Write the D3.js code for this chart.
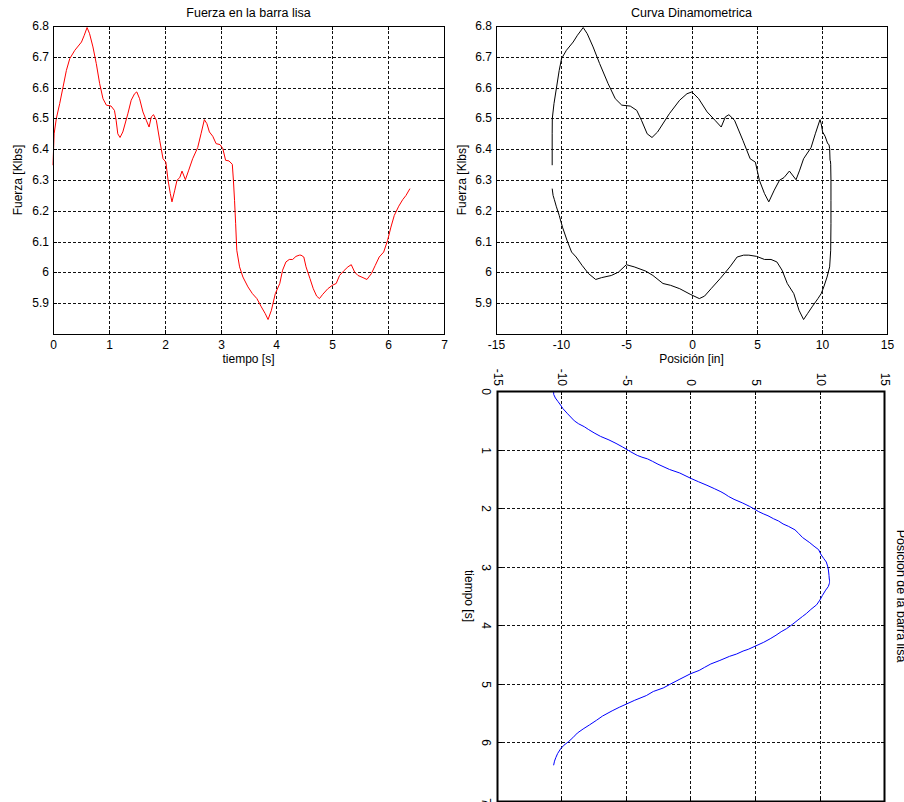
<!DOCTYPE html>
<html>
<head>
<meta charset="utf-8">
<script src="https://cdn.jsdelivr.net/npm/d3@7"></script>
<style>
  body { margin: 0; background: #fff; }
  svg { display: block; font-family: "Liberation Sans", Arial, sans-serif; }
</style>
</head>
<body>
<svg id="fig" width="904" height="802"></svg>
<script>
// samples: time [s], force [Klbs], polished rod position [in]
const timeS = [
  0.00, 0.02, 0.06, 0.12, 0.18, 0.24, 0.30, 0.39, 0.51, 0.56,
  0.61, 0.655, 0.715, 0.775, 0.835, 0.895, 0.955, 1.04, 1.10, 1.13,
  1.16, 1.20, 1.25, 1.34, 1.40, 1.46, 1.50, 1.55, 1.61, 1.67,
  1.72, 1.76, 1.80, 1.85, 1.91, 1.97, 2.02, 2.06, 2.10, 2.13,
  2.18, 2.22, 2.27, 2.31, 2.37, 2.43, 2.50, 2.59, 2.65, 2.71,
  2.755, 2.80, 2.86, 2.92, 2.99, 3.04, 3.09, 3.15, 3.21, 3.23,
  3.25, 3.27, 3.29, 3.34, 3.40, 3.49, 3.57, 3.65, 3.73, 3.80,
  3.85, 3.91, 3.98, 4.06, 4.11, 4.17, 4.23, 4.29, 4.35, 4.41,
  4.44, 4.49, 4.53, 4.60, 4.66, 4.72, 4.77, 4.83, 4.92, 5.00,
  5.07, 5.13, 5.20, 5.28, 5.34, 5.40, 5.46, 5.55, 5.62, 5.70,
  5.77, 5.84, 5.92, 5.99, 6.05, 6.11, 6.19, 6.26, 6.32, 6.39
];
const forceKlbs = [
  6.348, 6.45, 6.50, 6.548, 6.602, 6.656, 6.694, 6.721, 6.748, 6.77,
  6.795, 6.775, 6.732, 6.678, 6.613, 6.564, 6.543, 6.54, 6.526, 6.494,
  6.45, 6.438, 6.456, 6.515, 6.559, 6.58, 6.586, 6.564, 6.521, 6.494,
  6.472, 6.505, 6.512, 6.494, 6.429, 6.369, 6.358, 6.299, 6.256, 6.229,
  6.267, 6.299, 6.308, 6.329, 6.301, 6.332, 6.369, 6.405, 6.45, 6.496,
  6.483, 6.456, 6.442, 6.418, 6.415, 6.402, 6.364, 6.362, 6.351, 6.299,
  6.234, 6.158, 6.072, 6.018, 5.985, 5.953, 5.931, 5.915, 5.888, 5.866,
  5.847, 5.877, 5.931, 5.964, 6.007, 6.034, 6.042, 6.042, 6.052, 6.056,
  6.056, 6.05, 6.018, 5.98, 5.947, 5.923, 5.915, 5.929, 5.947, 5.958,
  5.964, 5.99, 6.004, 6.018, 6.025, 6.001, 5.99, 5.983, 5.977, 5.996,
  6.023, 6.05, 6.066, 6.104, 6.147, 6.185, 6.215, 6.236, 6.25, 6.272
];
const posIn = [
  -10.69, -10.69, -10.68, -10.55, -10.35, -10.15, -9.97, -9.6, -9.08, -8.75,
  -8.31, -8.0, -7.55, -7.05, -6.4, -5.85, -5.35, -4.7, -4.2, -3.84,
  -3.4, -3.03, -2.6, -1.7, -0.91, -0.35, 0.03, 0.55, 1.2, 1.8,
  2.28, 2.6, 2.87, 3.3, 3.94, 4.5, 4.9, 5.21, 5.6, 5.93,
  6.35, 6.75, 7.1, 7.51, 8.02, 8.3, 8.6, 9.17, 9.5, 9.86,
  9.95, 10.06, 10.25, 10.45, 10.55, 10.6, 10.63, 10.66, 10.68, 10.7,
  10.7, 10.7, 10.68, 10.6, 10.4, 10.15, 9.95, 9.7, 9.25, 8.9,
  8.6, 8.25, 7.85, 7.35, 6.95, 6.55, 6.1, 5.6, 5.0, 4.4,
  4.0, 3.5, 2.95, 2.2, 1.5, 1.0, 0.6, -0.1, -0.9, -1.6,
  -2.19, -2.96, -3.5, -4.4, -5.0, -5.6, -6.15, -6.9, -7.35, -7.9,
  -8.4, -8.85, -9.2, -9.55, -9.9, -10.15, -10.38, -10.52, -10.62, -10.69
];

const timeTicks = [0, 1, 2, 3, 4, 5, 6, 7];
const forceTicks = [5.9, 6, 6.1, 6.2, 6.3, 6.4, 6.5, 6.6, 6.7, 6.8];
const posTicks = [-15, -10, -5, 0, 5, 10, 15];

const svg = d3.select('#fig');
const fmt = d => String(+d.toFixed(1));

// one MATLAB style axes box: grid, trace, frame, inward ticks on all sides
function panel(g, o) {
  const x = d3.scaleLinear().domain(o.xDomain).range([0, o.w]);
  const y = d3.scaleLinear().domain(o.yDomain).range([o.h, 0]);
  const xr = x.copy().interpolate(d3.interpolateRound);
  const yr = y.copy().interpolate(d3.interpolateRound);

  const grid = g.append('g')
    .attr('stroke', '#111')
    .attr('stroke-width', 1)
    .attr('stroke-dasharray', '3,2');
  grid.selectAll('.gx').data(o.xTicks).join('line')
    .attr('x1', d => xr(d) + 0.5).attr('x2', d => xr(d) + 0.5)
    .attr('y1', 0).attr('y2', o.h);
  grid.selectAll('.gy').data(o.yTicks).join('line')
    .attr('y1', d => yr(d) + 0.5).attr('y2', d => yr(d) + 0.5)
    .attr('x1', 0).attr('x2', o.w);

  g.append('path')
    .datum(o.xs.map((v, i) => [v, o.ys[i]]))
    .attr('fill', 'none')
    .attr('stroke', o.color)
    .attr('stroke-width', 1)
    .attr('stroke-linejoin', 'round')
    .attr('d', d3.line().x(d => x(d[0])).y(d => y(d[1])));

  g.append('rect')
    .attr('x', 0.5).attr('y', 0.5)
    .attr('width', o.w).attr('height', o.h)
    .attr('fill', 'none')
    .attr('stroke', '#000')
    .attr('stroke-width', o.frame || 1);

  const style = sel => {
    sel.select('.domain').remove();
    sel.selectAll('line').attr('stroke', '#000');
    sel.attr('font-family', null).attr('font-size', 12);
    sel.selectAll('text').attr('fill', '#000');
  };

  g.append('g').attr('transform', `translate(0,${o.h})`)
    .call(d3.axisBottom(xr).tickValues(o.xTicks).tickFormat(fmt)
      .tickSizeInner(-4).tickSizeOuter(0).tickPadding(o.xPad))
    .call(style);
  g.append('g')
    .call(d3.axisTop(xr).tickValues(o.xTicks).tickFormat('')
      .tickSizeInner(-4).tickSizeOuter(0))
    .call(style);
  g.append('g')
    .call(d3.axisLeft(yr).tickValues(o.yTicks).tickFormat(fmt)
      .tickSizeInner(-4).tickSizeOuter(0).tickPadding(o.yPad))
    .call(style);
  g.append('g').attr('transform', `translate(${o.w},0)`)
    .call(d3.axisRight(yr).tickValues(o.yTicks).tickFormat('')
      .tickSizeInner(-4).tickSizeOuter(0))
    .call(style);

  g.append('text')
    .attr('x', o.w / 2).attr('y', o.titleY)
    .attr('text-anchor', 'middle')
    .attr('font-size', 12.5)
    .text(o.title);
  g.append('text')
    .attr('x', o.w / 2).attr('y', o.h + o.xLabelY)
    .attr('text-anchor', 'middle')
    .attr('font-size', 12)
    .text(o.xLabel);
  if (o.yLabel) {
    g.append('text')
      .attr('transform', `translate(${o.yLabelX},${o.h / 2}) rotate(-90)`)
      .attr('text-anchor', 'middle')
      .attr('font-size', 12)
      .text(o.yLabel);
  }
}

// force vs time
panel(svg.append('g').attr('transform', 'translate(53,26)'), {
  w: 391, h: 308,
  xDomain: [0, 7], yDomain: [5.8, 6.8],
  xTicks: timeTicks, yTicks: forceTicks,
  xs: timeS, ys: forceKlbs, color: '#ff0000',
  xPad: 6, yPad: 4,
  title: 'Fuerza en la barra lisa', titleY: -9,
  xLabel: 'tiempo [s]', xLabelY: 28.5,
  yLabel: 'Fuerza [Klbs]', yLabelX: -31
});

// dynamometer card
panel(svg.append('g').attr('transform', 'translate(496,26)'), {
  w: 391, h: 308,
  xDomain: [-15, 15], yDomain: [5.8, 6.8],
  xTicks: posTicks, yTicks: forceTicks,
  xs: posIn, ys: forceKlbs, color: '#000000',
  xPad: 6, yPad: 4,
  title: 'Curva Dinamometrica', titleY: -9,
  xLabel: 'Posición [in]', xLabelY: 28.5,
  yLabel: 'Fuerza [Klbs]', yLabelX: -30
});

// position vs time, the whole axes turned a quarter turn clockwise
panel(svg.append('g').attr('transform', 'translate(885,391) rotate(90)'), {
  w: 410, h: 387,
  xDomain: [0, 7], yDomain: [-15, 15],
  xTicks: timeTicks, yTicks: posTicks,
  xs: timeS, ys: posIn, color: '#0000ff',
  xPad: 7, yPad: 5, frame: 2,
  title: 'Posición de la barra lisa', titleY: -11.5,
  xLabel: 'tiempo [s]', xLabelY: 33
});
</script>
</body>
</html>
